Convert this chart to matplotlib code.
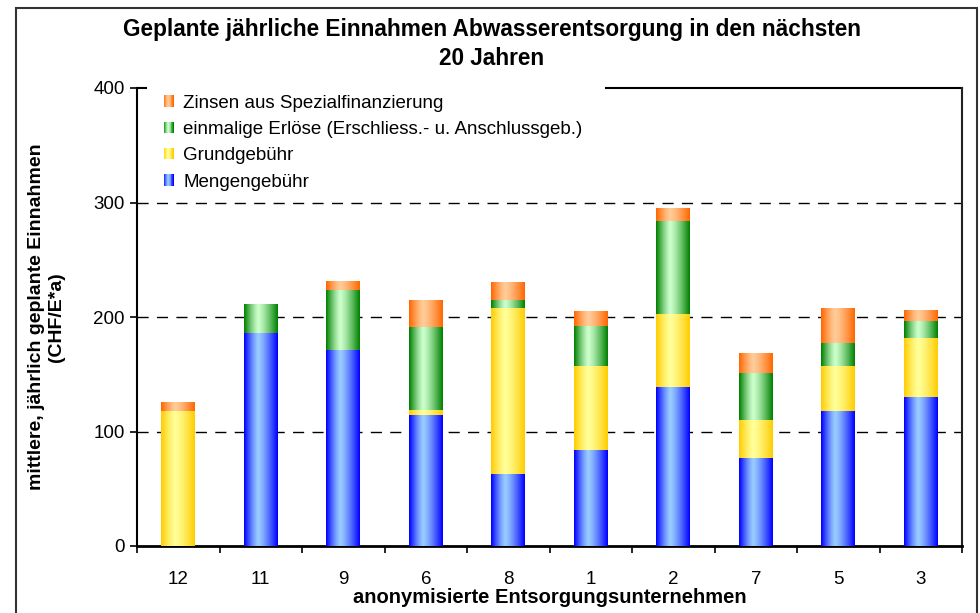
import numpy as np
import matplotlib
matplotlib.use("Agg")
import matplotlib.pyplot as plt
from matplotlib.patches import Rectangle
from matplotlib.legend_handler import HandlerBase

plt.rcParams['font.family'] = ['Liberation Sans', 'DejaVu Sans']

categories = ["12", "11", "9", "6", "8", "1", "2", "7", "5", "3"]
mengengebuehr = [0, 186, 171, 114, 63, 84, 139, 77, 118, 130]
grundgebuehr = [118, 0, 0, 4.5, 145, 73, 64, 33, 39, 51.5]
einmalige = [0, 25, 53, 73, 7, 35, 81, 41, 20, 15]
zinsen = [7, 0, 7, 23, 15, 13, 10.5, 17, 30, 9]

series_names = ["Mengengebühr", "Grundgebühr",
                "einmalige Erlöse (Erschliess.- u. Anschlussgeb.)",
                "Zinsen aus Spezialfinanzierung"]
series_values = [mengengebuehr, grundgebuehr, einmalige, zinsen]
edge_colors = [(0, 0, 255), (255, 204, 0), (0, 128, 0), (255, 102, 0)]
center_colors = [(153, 204, 255), (255, 255, 153), (204, 255, 204), (255, 204, 153)]


def gradient_rgb(edge, center, n=64, peak=0.42):
    u = np.linspace(0, 1, n)
    d = np.where(u < peak, (peak - u) / peak, (u - peak) / (1 - peak))
    f = 1 - d ** 1.3
    e = np.array(edge) / 255.0
    c = np.array(center) / 255.0
    cols = e[None, :] * (1 - f[:, None]) + c[None, :] * f[:, None]
    return cols


fig = plt.figure(figsize=(9.8, 6.13), dpi=100)
W, H = 980, 613
ax = fig.add_axes([137 / W, 1 - 546 / H, (962 - 137) / W, (546 - 88) / H])

x = np.arange(len(categories))
width = 0.41
bottom = np.zeros(len(categories))
for vals, ec, cc in zip(series_values, edge_colors, center_colors):
    vals = np.array(vals, dtype=float)
    bars = ax.bar(x, vals, width, bottom=bottom, color='none', edgecolor='none', zorder=3)
    grad = gradient_rgb(ec, cc)[None, :, :]
    for b in bars:
        h = b.get_height()
        if h <= 0:
            continue
        x0 = b.get_x()
        y0 = b.get_y()
        ax.imshow(grad, extent=[x0, x0 + b.get_width(), y0, y0 + h],
                  aspect='auto', interpolation='bilinear', zorder=3)
    bottom += vals

ax.set_xlim(-0.5, len(categories) - 0.5)
ax.set_ylim(0, 400)
ax.set_aspect('auto')

# grid
for yv in [100, 200, 300]:
    ax.axhline(yv, color='black', lw=1.0, ls=(0, (8, 6)), zorder=1)

# ticks
ax.set_yticks([0, 100, 200, 300, 400])
ax.tick_params(axis='y', direction='out', length=5, width=1.2, labelsize=13.5, pad=4)
ax.set_xticks(np.arange(-0.5, len(categories), 1.0))
ax.set_xticklabels([])
ax.tick_params(axis='x', which='major', direction='out', length=5, width=1.2)
ax.set_xticks(x, minor=True)
ax.set_xticklabels(categories, minor=True, fontsize=13.5)
ax.tick_params(axis='x', which='minor', length=0, pad=18)

for s in ['left', 'bottom']:
    ax.spines[s].set_color('black')
ax.spines['left'].set_linewidth(1.5)
ax.spines['bottom'].set_linewidth(2.0)
ax.spines['right'].set_color('#222222')
ax.spines['right'].set_linewidth(1.5)
ax.spines['top'].set_visible(False)
# top border partially hidden by the legend
ax.plot([0, (146 - 137) / 825], [1, 1], transform=ax.transAxes, color='black', lw=1.5, clip_on=False)
ax.plot([(606 - 137) / 825, 1], [1, 1], transform=ax.transAxes, color='black', lw=1.5, clip_on=False)

ax.set_xlabel("anonymisierte Entsorgungsunternehmen", fontsize=14.5, fontweight='bold', labelpad=0)
ax.set_ylabel("mittlere, jährlich geplante Einnahmen\n(CHF/E*a)", fontsize=14,
              fontweight='bold', labelpad=20, linespacing=1.25)

fig.suptitle("Geplante jährliche Einnahmen Abwasserentsorgung in den nächsten\n20 Jahren",
             x=492 / W, y=1 - 18 / H, fontsize=16.3, fontweight='bold',
             linespacing=1.33, va='top')


class GradientHandler(HandlerBase):
    def __init__(self, edge, center):
        super().__init__()
        self.edge = edge
        self.center = center

    def create_artists(self, legend, orig_handle, xdescent, ydescent, width, height, fontsize, trans):
        n = 12
        cols = gradient_rgb(self.edge, self.center, n=n)
        arts = []
        sw = width / n
        for i in range(n):
            r = Rectangle((-xdescent + i * sw, -ydescent), sw * 1.05, height,
                          facecolor=cols[i], edgecolor='none', transform=trans)
            arts.append(r)
        return arts


handles = []
hmap = {}
for name, ec, cc in zip(series_names, edge_colors, center_colors):
    h = Rectangle((0, 0), 1, 1, label=name)
    handles.append(h)
    hmap[h] = GradientHandler(ec, cc)
handles = handles[::-1]
leg = ax.legend(handles=handles, handler_map=hmap, loc='upper left',
                bbox_to_anchor=((158 - 137) / 825, 1 - 1 / 458), frameon=False,
                fontsize=13.5, handlelength=0.55, handleheight=0.55, handletextpad=0.5,
                labelspacing=0.5, borderaxespad=0, borderpad=0.3)

# outer frame
fig.patches.append(Rectangle((16 / W, -0.05), (977 - 16) / W, 1 - 8.5 / H + 0.05,
                             transform=fig.transFigure, fill=False,
                             edgecolor='#333333', lw=1.5))

fig.savefig("out.png", dpi=100)
